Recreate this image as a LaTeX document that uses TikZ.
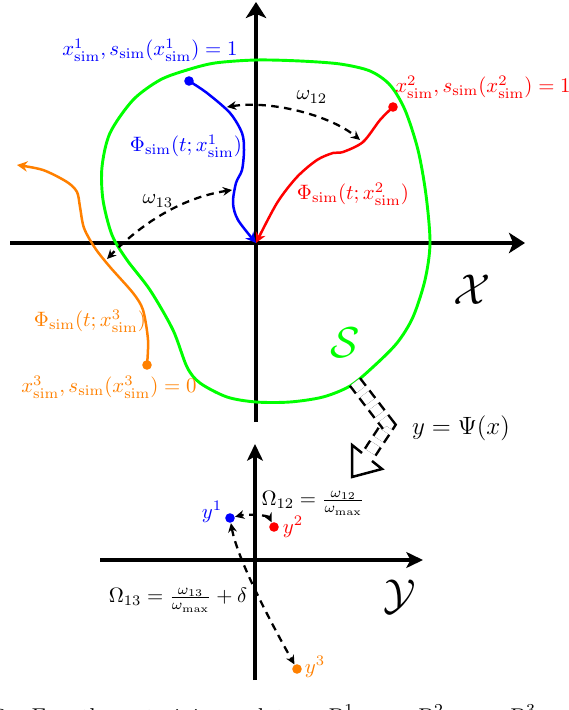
\documentclass[tikz,border=0pt]{standalone}
\usepackage{amsmath}
\usetikzlibrary{arrows.meta}

\begin{document}
\begin{tikzpicture}[x=0.48pt, y=-0.48pt,
  bigaxis/.style={line width=1.9pt, -{Stealth[length=7.7pt, width=9.8pt, inset=2pt]}},
  smallaxis/.style={line width=1.5pt, -{Stealth[length=8pt, width=7.6pt, inset=2pt]}},
  dot/.style={circle, fill, inner sep=0pt, minimum size=4.6pt},
  traj/.style={line width=1.2pt, -{Stealth[length=5pt, width=5pt]}},
  dist/.style={line width=1.1pt, dash pattern=on 3.6pt off 2.6pt,
    {Stealth[length=4.4pt, width=4.2pt]}-{Stealth[length=4.4pt, width=4.2pt]}},
]
  \useasboundingbox (0,0) rectangle (568,710);

  % state space
  \draw[bigaxis] (10,243) -- (525,243);
  \draw[bigaxis] (256,422) -- (256,2);
  \coordinate (O) at (256,243);
  \node[font=\huge] (calX) at (472,290) {$\mathcal{X}$};

  \draw[green, line width=1.4pt] plot[smooth cycle] coordinates {
    (256,60) (300,61) (340,64) (370,71) (390,85) (405,110) (418,150) (426,195)
    (430,243) (425,280) (413,317) (397,343) (373,367) (350,386) (323,397) (290,402)
    (256,402) (227,397) (200,383) (187,367) (173,330) (150,290) (127,260) (112,235)
    (103,200) (102,167) (110,133) (133,100) (160,80) (187,70) (215,63)};
  \node[green, font=\huge] (calS) at (345,343) {$\mathcal{S}$};

  \coordinate (p1) at (189,81);
  \coordinate (p2) at (393,107);
  \coordinate (p3) at (147,365);
  \coordinate (p3end) at (17,165);
  \draw[traj, blue] plot[smooth] coordinates {(p1) (207,93) (230,113) (242,133) (244,150)
    (242,170) (236,183) (233,203) (238,220) (O)};
  \draw[traj, red] plot[smooth] coordinates {(p2) (380,120) (363,142) (343,152) (333,153)
    (317,160) (297,177) (277,203) (O)};
  \draw[traj, orange] plot[smooth] coordinates {(p3) (148,340) (143,310) (133,293) (110,267)
    (95,248) (84,228) (80,207) (77,192) (67,182) (43,170) (p3end)};
  \node[dot, blue] (d1) at (p1) {};
  \node[dot, red] (d2) at (p2) {};
  \node[dot, orange] (d3) at (p3) {};

  \node[blue] (lx1) at (150,50) {$x^1_{\mathrm{sim}}, s_{\mathrm{sim}}(x^1_{\mathrm{sim}}) = 1$};
  \node[red] (lx2) at (483,87) {$x^2_{\mathrm{sim}}, s_{\mathrm{sim}}(x^2_{\mathrm{sim}}) = 1$};
  \node[orange] (lx3) at (109,387) {$x^3_{\mathrm{sim}}, s_{\mathrm{sim}}(x^3_{\mathrm{sim}}) = 0$};
  \node[blue] (lphi1) at (186,146) {$\Phi_{\mathrm{sim}}(t; x^1_{\mathrm{sim}})$};
  \node[red] (lphi2) at (353,194) {$\Phi_{\mathrm{sim}}(t; x^2_{\mathrm{sim}})$};
  \node[orange] (lphi3) at (90,321) {$\Phi_{\mathrm{sim}}(t; x^3_{\mathrm{sim}})$};

  \coordinate (w12a) at (227,107);
  \coordinate (w12b) at (360,140);
  \coordinate (w13a) at (232,190);
  \coordinate (w13b) at (107,259);
  \draw[dist] (w12a) .. controls (270,100) and (330,115) .. (w12b);
  \draw[dist] (w13a) .. controls (180,198) and (140,225) .. (w13b);
  \node (lw12) at (312,97) {$\omega_{12}$};
  \node (lw13) at (158,201) {$\omega_{13}$};

  % map Psi
  \coordinate (psiA) at (355,382);
  \coordinate (psiB) at (388,425);
  \coordinate (psiC) at (367,457);
  \draw[line width=1.2pt, dash pattern=on 4.6pt off 2.8pt, double, double distance=4.8pt,
    line join=miter] (psiA) -- (psiB) -- (psiC);
  \draw[line width=1.2pt, line join=miter] (362,453) -- (352,445) -- (352,477) -- (382,469) -- (372,461);
  \node[font=\large] (lpsi) at (461,428) {$y = \Psi(x)$};

  % latent space
  \draw[smallaxis] (100,560) -- (423,560);
  \draw[smallaxis] (255,680) -- (255,444);
  \node[font=\huge] (calY) at (400,597) {$\mathcal{Y}$};

  \node[dot, blue] (y1) at (230,518) {};
  \node[dot, red] (y2) at (274,527) {};
  \node[dot, orange] (y3) at (297,669) {};
  \draw[dist] (y2) .. controls +(-6,-12) and +(16,-4) .. (y1);
  \draw[dist] (y1) .. controls +(8,45) and +(-18,-32) .. (y3);
  \node[blue] (ly1) at (212,512) {$y^1$};
  \node[red] (ly2) at (293,527) {$y^2$};
  \node[orange] (ly3) at (315,667) {$y^3$};
  \node (lom12) at (313,503) {$\Omega_{12} = \frac{\omega_{12}}{\omega_{\max}}$};
  \node (lom13) at (178,600) {$\Omega_{13} = \frac{\omega_{13}}{\omega_{\max}} + \delta$};

  \node[anchor=base west, inner sep=0pt, font=\fontsize{11}{13}\selectfont] (cap) at (-5,724)
    {2:\hspace{9pt}For\hspace{8pt}the\hspace{16pt}training\hspace{14pt}data\hspace{14pt}$D^1$,\hspace{26pt}$D^2$,\hspace{27pt}$D^3$};
\end{tikzpicture}
\end{document}
